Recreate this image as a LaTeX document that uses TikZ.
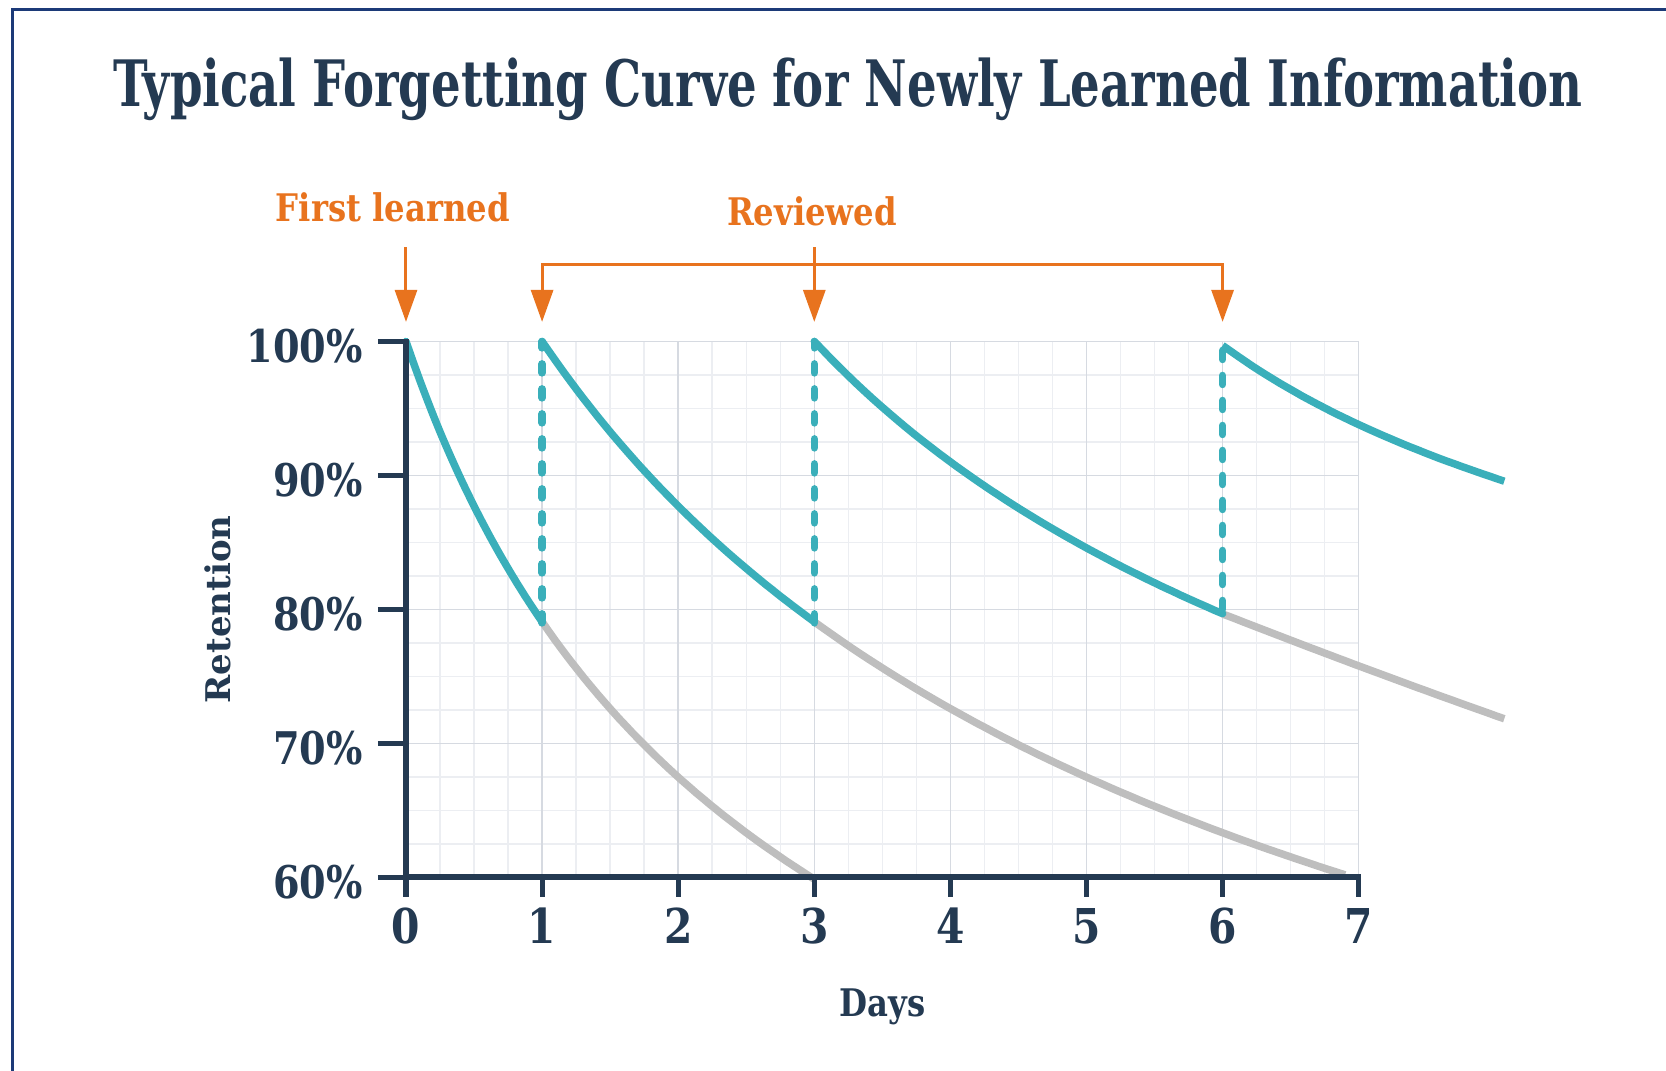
\documentclass[tikz,border=0pt]{standalone}
\usepackage{fontspec}
\setmainfont{DejaVu Serif}
\newfontfamily\headfont{DejaVu Serif}[FakeStretch=0.728]
\newfontfamily\labfont{DejaVu Serif}[FakeStretch=0.85]
\newfontfamily\sidefont{DejaVu Serif}
\usetikzlibrary{arrows.meta}

\definecolor{navy}{RGB}{36,58,82}
\definecolor{framec}{RGB}{28,58,120}
\definecolor{cueorange}{RGB}{232,115,30}
\definecolor{recallteal}{RGB}{58,175,186}
\definecolor{lostgray}{RGB}{190,190,190}
\definecolor{gridlite}{RGB}{236,238,242}
\definecolor{gridmid}{RGB}{214,218,225}

\begin{document}
\begin{tikzpicture}[x=136.1pt, y=13.4pt,
	gridline/.style={draw=gridlite, line width=1.5pt},
	gridmajor/.style={draw=gridmid, line width=1.5pt},
	axisline/.style={draw=navy, line width=6pt},
	axistick/.style={draw=navy, line width=5pt},
	recall/.style={draw=recallteal, line width=7.5pt, line cap=round},
	lost/.style={draw=lostgray, line width=7.5pt},
	review/.style={draw=recallteal, line width=7.5pt, line cap=round, dash pattern=on 9pt off 16pt},
	cue/.style={draw=cueorange, line width=3pt, -{Triangle[length=32pt,width=22pt]}},
	cuetext/.style={text=cueorange, font=\labfont\bfseries\fontsize{38}{40}\selectfont, anchor=base},
	pctlab/.style={text=navy, font=\labfont\bfseries\fontsize{45}{48}\selectfont, anchor=base east, inner sep=0pt},
	daylab/.style={text=navy, font=\labfont\bfseries\fontsize{48}{50}\selectfont, anchor=base, inner sep=0pt}]

	\useasboundingbox (-2.9831,45.56) rectangle (9.2579,125.485);
	\draw[framec, line width=3pt] (-2.8876,45.56) -- (-2.8876,124.739) -- (9.2579,124.739);

	\node[text=navy, font=\headfont\bfseries\fontsize{64}{70}\selectfont, anchor=base] (title) at (3.248,117.57) {Typical Forgetting Curve for Newly Learned Information};

	% grid
	\foreach \i in {0.25,0.5,...,7} \draw[gridline] (\i,60) -- (\i,100);
	\foreach \p in {62.5,65,...,100} \draw[gridline] (0,\p) -- (7,\p);
	\foreach \d in {1,...,7} \draw[gridmajor] (\d,60) -- (\d,100);
	\foreach \p in {70,80,90,100} \draw[gridmajor] (0,\p) -- (7,\p);

	% what is lost without review
	\draw[lost] plot[domain=1:3, samples=40] (\x, {100*(1+(\x)/1.64)^(-0.4934)});
	\draw[lost] plot[domain=3:6.9, samples=60] (\x, {100*(1+(\x-1)/3.28)^(-0.4934)});
	\draw[lost] plot[domain=6:8.07, samples=40] (\x, {79.66*exp(-0.05*(\x-6))});

	% reviews
	\draw[review] (1,79) -- (1,100);
	\draw[review] (3,79) -- (3,100);
	\draw[review] (6,80) -- (6,99.7);

	\draw[recall] plot[domain=0:1, samples=40] (\x, {100*(1+(\x)/1.64)^(-0.4934)});
	\draw[recall] plot[domain=1:3, samples=40] (\x, {100*(1+(\x-1)/3.28)^(-0.4934)});
	\draw[recall] plot[domain=3:6, samples=50] (\x, {100*(1+(\x-3)/3)^(-0.328)});
	\draw[recall, line cap=butt] plot[domain=6:8.07, samples=40] (\x, {99.7*(1+(\x-6)/2)^(-0.151)});

	% axes
	\draw[axisline] (0,58.55) -- (0,100.19);
	\draw[axisline] (-0.02,60) -- (7.02,60);
	\foreach \p in {70,80,90,100} \draw[axistick] (-0.206,\p) -- (0,\p);
	\draw[axistick] (-0.206,60) -- (0,60);
	\foreach \d in {1,...,7} \draw[axistick] (\d,60) -- (\d,58.55);

	\foreach \p in {60,70,80,90,100} \node[pctlab] (p\p) at (-0.316,\p-1.6) {\p\%};
	\foreach \d in {0,...,7} \node[daylab] (d\d) at (\d,55.11) {\d};

	\node[text=navy, font=\labfont\bfseries\fontsize{38}{40}\selectfont, anchor=base] (days) at (3.5,49.59) {Days};
	\node[text=navy, font=\sidefont\bfseries\fontsize{34}{36}\selectfont, rotate=90, anchor=base] (ret) at (-1.286,80) {Retention};

	% labels above
	\node[cuetext] (first) at (-0.096,108.92) {First learned};
	\node[cuetext] (again) at (2.983,108.69) {Reviewed};

	\coordinate (firsttop) at (0,107.05);
	\coordinate (firsttip) at (0,101.46);
	\coordinate (againtop) at (3,107.05);
	\coordinate (againtip) at (3,101.46);
	\coordinate (leftknee) at (1,105.78);
	\coordinate (lefttip) at (1,101.46);
	\coordinate (rightknee) at (6,105.78);
	\coordinate (righttip) at (6,101.46);

	\draw[cue] (firsttop) -- (firsttip);
	\draw[cue] (againtop) -- (againtip);
	\draw[cue, {Triangle[length=32pt,width=22pt]}-{Triangle[length=32pt,width=22pt]}] (lefttip) -- (leftknee) -- (rightknee) -- (righttip);
\end{tikzpicture}
\end{document}
